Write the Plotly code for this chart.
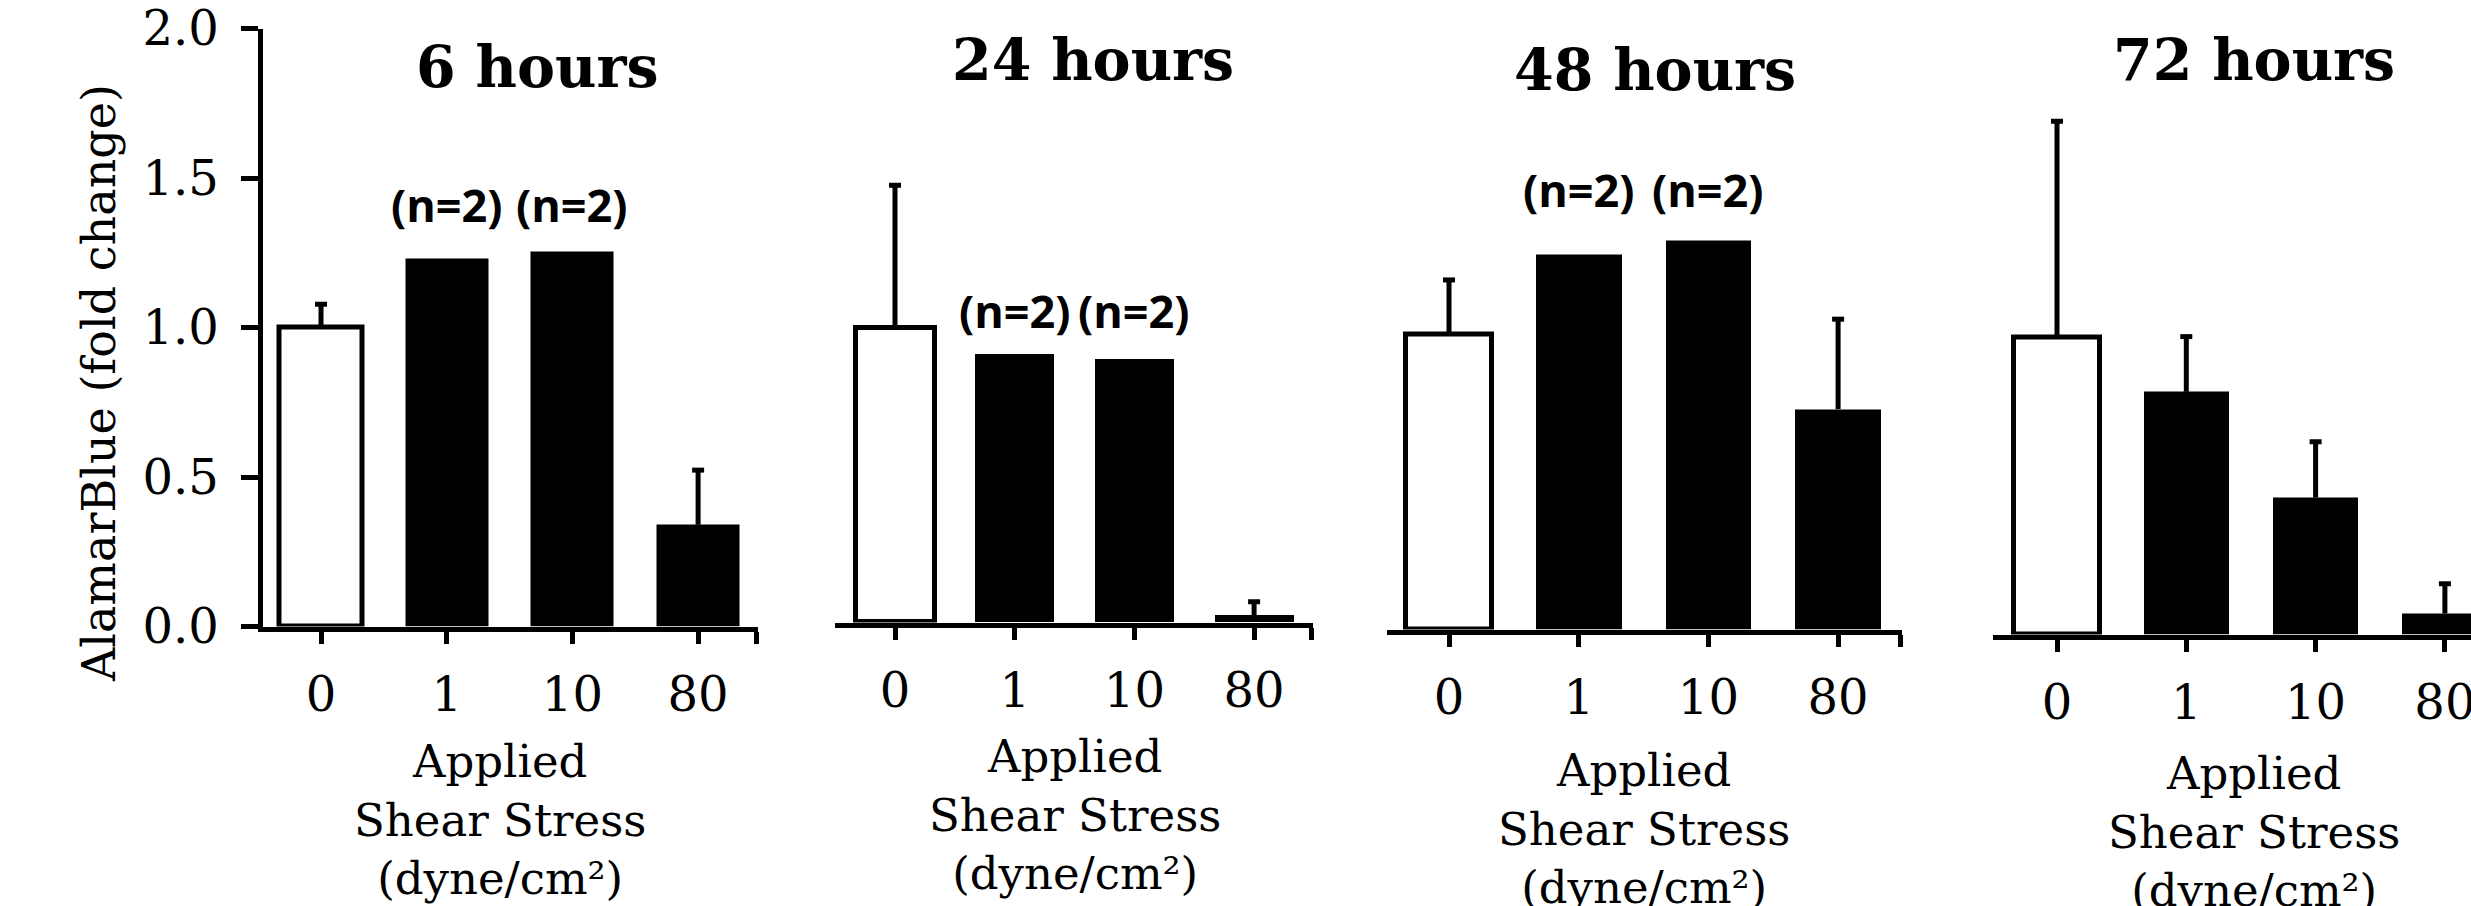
import plotly.graph_objects as go

W, H = 2471, 906

# ---------------- data ----------------
categories = ["0", "1", "10", "80"]
panel_titles = ["6 hours", "24 hours", "48 hours", "72 hours"]

mean_6h = [1.00, 1.232, 1.254, 0.340]
err_6h = [0.078, None, None, 0.183]
mean_24h = [1.00, 0.910, 0.893, 0.025]
err_24h = [0.484, None, None, 0.045]
mean_48h = [1.00, 1.272, 1.320, 0.747]
err_48h = [0.185, None, None, 0.305]
mean_72h = [1.00, 0.817, 0.461, 0.071]
err_72h = [0.728, 0.186, 0.188, 0.100]

bar_fill = ["white", "black", "black", "black"]
n_label_text = "(n=2)"
n_label_cats = [1, 2]          # bars marked with (n=2)
n_label_y = [1.41, 1.06, 1.49, None]

y_ticks = [0, 0.5, 1.0, 1.5, 2.0]
y_ticktext = ["0.0", "0.5", "1.0", "1.5", "2.0"]
y_title = "AlamarBlue (fold change)"
x_title = "Applied<br>Shear Stress<br>(dyne/cm²)"

means = [mean_6h, mean_24h, mean_48h, mean_72h]
errs = [err_6h, err_24h, err_48h, err_72h]

# ---------------- layout geometry (pixels) ----------------
geom = [
    dict(tick0=321, step=125.7, left=262.5, right=758, base=629, k=299, title=(537, 66), xt=(500, 820)),
    dict(tick0=895, step=119.7, left=835, right=1313, base=625, k=294.7, title=(1093, 59), xt=(1075, 815)),
    dict(tick0=1449, step=129.7, left=1387, right=1902, base=632, k=295, title=(1655, 69), xt=(1644, 829)),
    dict(tick0=2057, step=129.3, left=1993, right=2471, base=637, k=297, title=(2254, 59), xt=(2254, 832)),
]
LW = 5
ERR_W = 5
CAP_PX = 6
BAR_W = 0.66
SERIF = "DejaVu Serif"

fig = go.Figure()
annotations = []

for i, g in enumerate(geom):
    xa = "x" if i == 0 else f"x{i+1}"
    ya = "y" if i == 0 else f"y{i+1}"
    xkey = "xaxis" if i == 0 else f"xaxis{i+1}"
    ykey = "yaxis" if i == 0 else f"yaxis{i+1}"

    xr0 = (g["left"] - g["tick0"]) / g["step"]
    xr1 = (g["right"] - g["tick0"]) / g["step"]
    ybot = g["base"] - LW / 2
    ytop = ybot - 2.0 * g["k"]

    idx = list(range(len(categories)))
    fig.add_trace(go.Bar(
        x=idx, y=means[i], xaxis=xa, yaxis=ya, width=BAR_W,
        marker=dict(color=bar_fill,
                    line=dict(color="black", width=[LW, 0, 0, 0])),
        showlegend=False, hoverinfo="skip",
    ))

    # upper-only error bars (stem + cap), built from the data
    cap = CAP_PX / g["step"]
    ex, ey = [], []
    for j, (m, e) in enumerate(zip(means[i], errs[i])):
        if e is None:
            continue
        ex += [j, j, None, j - cap, j + cap, None]
        ey += [m, m + e, None, m + e, m + e, None]
    fig.add_trace(go.Scatter(
        x=ex, y=ey, xaxis=xa, yaxis=ya, mode="lines",
        line=dict(color="black", width=ERR_W), cliponaxis=True,
        showlegend=False, hoverinfo="skip",
    ))

    tickvals = idx + ([xr1 - 0.012] if i < 3 else [])
    ticktext = categories + ([""] if i < 3 else [])
    fig.layout[xkey] = dict(
        domain=[g["left"] / W, g["right"] / W], range=[xr0, xr1],
        anchor=ya, showline=True, linecolor="black", linewidth=LW,
        ticks="outside", ticklen=12, tickwidth=LW, tickcolor="black",
        tickmode="array", tickvals=tickvals, ticktext=ticktext,
        ticklabelstandoff=10, ticklabeloverflow="allow",
        tickfont=dict(family=SERIF, size=48, color="black"),
        showgrid=False, zeroline=False, fixedrange=True, automargin=False,
    )
    ydict = dict(
        domain=[1 - ybot / H, 1 - ytop / H], range=[0, 2.0],
        anchor=xa, showgrid=False, zeroline=False, fixedrange=True, automargin=False,
    )
    if i == 0:
        ydict.update(showline=True, linecolor="black", linewidth=LW,
                     ticks="outside", ticklen=17, tickwidth=LW, tickcolor="black",
                     tickmode="array", tickvals=y_ticks, ticktext=y_ticktext,
                     ticklabelstandoff=12, ticklabeloverflow="allow",
                     tickfont=dict(family=SERIF, size=48, color="black"))
    else:
        ydict.update(visible=False)
    fig.layout[ykey] = ydict

    # panel title
    annotations.append(dict(
        text=panel_titles[i], xref="paper", yref="paper",
        x=g["title"][0] / W, y=1 - g["title"][1] / H,
        xanchor="center", yanchor="middle", showarrow=False,
        font=dict(family=SERIF, size=57, color="black", weight="bold"),
    ))
    # x title
    annotations.append(dict(
        text=x_title, xref="paper", yref="paper",
        x=g["xt"][0] / W, y=1 - g["xt"][1] / H,
        xanchor="center", yanchor="middle", showarrow=False,
        font=dict(family=SERIF, size=45, color="black"),
    ))
    # (n=2) labels
    if n_label_y[i] is not None:
        for c in n_label_cats:
            annotations.append(dict(
                text=n_label_text, xref=xa, yref=ya, x=c, y=n_label_y[i],
                xanchor="center", yanchor="middle", showarrow=False,
                font=dict(family="Open Sans", size=45, color="black", weight="bold"),
            ))

annotations.append(dict(
    text=y_title, xref="paper", yref="paper", x=99 / W, y=1 - 383 / H,
    xanchor="center", yanchor="middle", textangle=-90, showarrow=False,
    font=dict(family=SERIF, size=46, color="black"),
))

fig.update_layout(
    width=W, height=H,
    margin=dict(l=0, r=0, t=0, b=0, pad=0, autoexpand=False),
    paper_bgcolor="white", plot_bgcolor="white",
    bargap=0, annotations=annotations, showlegend=False,
)

fig.write_html("out.html", config={"displayModeBar": False})
